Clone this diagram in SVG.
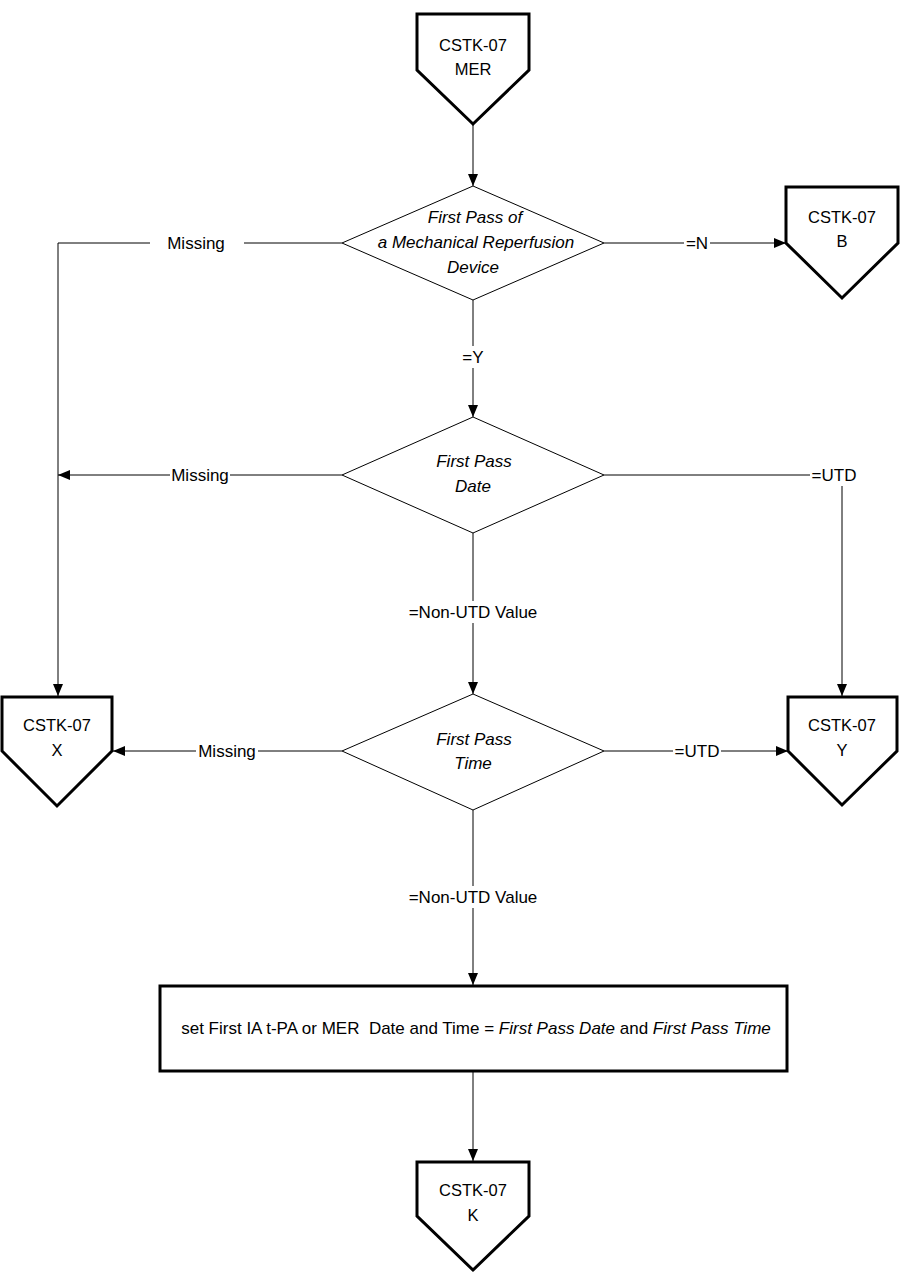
<svg xmlns="http://www.w3.org/2000/svg" width="900" height="1286" viewBox="0 0 900 1286">
<style>
.sh{fill:#fff;stroke:#000;stroke-width:3;stroke-linejoin:miter}
.dm{fill:#fff;stroke:#000;stroke-width:1}
.ln{fill:none;stroke:#000;stroke-width:1}
text{font-family:"Liberation Sans",Arial,sans-serif;font-size:17px;fill:#000;text-anchor:middle}
.nd{font-size:16.5px}
.it{font-style:italic}
.lb{fill:#fff;stroke:none}
</style>
<defs>
<marker id="ah" viewBox="0 0 12 10" refX="12" refY="5" markerWidth="12" markerHeight="10" markerUnits="userSpaceOnUse" orient="auto">
<path d="M0,0 L12,5 L0,10 z" fill="#000"/>
</marker>
</defs>
<rect width="900" height="1286" fill="#fff"/>
<g id="connectors">
<path class="ln" d="M473,124 V186" marker-end="url(#ah)"/>
<path class="ln" d="M604,243 H786" marker-end="url(#ah)"/>
<path class="ln" d="M342,243 H58 V696" marker-end="url(#ah)"/>
<path class="ln" d="M473,300 V417" marker-end="url(#ah)"/>
<path class="ln" d="M342,475 H58" marker-end="url(#ah)"/>
<path class="ln" d="M604,475 H842 V696" marker-end="url(#ah)"/>
<path class="ln" d="M473,533 V694" marker-end="url(#ah)"/>
<path class="ln" d="M342,751 H113" marker-end="url(#ah)"/>
<path class="ln" d="M604,751 H788" marker-end="url(#ah)"/>
<path class="ln" d="M473,810 V985" marker-end="url(#ah)"/>
<path class="ln" d="M473,1071 V1161" marker-end="url(#ah)"/>
<rect class="lb" x="150" y="232" width="94" height="22"/>
<text x="196" y="249">Missing</text>
<rect class="lb" x="684" y="232" width="26" height="22"/>
<text x="697" y="249">=N</text>
<rect class="lb" x="458" y="346" width="30" height="22"/>
<text x="473" y="363">=Y</text>
<rect class="lb" x="170" y="464" width="60" height="22"/>
<text x="200" y="481">Missing</text>
<rect class="lb" x="810" y="464" width="48" height="22"/>
<text x="834" y="481">=UTD</text>
<rect class="lb" x="406" y="601" width="134" height="22"/>
<text x="473" y="618">=Non-UTD Value</text>
<rect class="lb" x="196" y="740" width="62" height="22"/>
<text x="227" y="757">Missing</text>
<rect class="lb" x="673" y="740" width="48" height="22"/>
<text x="697" y="757">=UTD</text>
<rect class="lb" x="406" y="886" width="134" height="22"/>
<text x="473" y="903">=Non-UTD Value</text>
</g>
<g id="n-mer">
<path class="sh" d="M417,14 H529 V70 L473,124 L417,70 Z"/>
<text class="nd" x="473" y="51">CSTK-07</text>
<text class="nd" x="473" y="75">MER</text>
</g>
<g id="d-firstpass">
<path class="dm" d="M473,186 L604,243 L473,300 L342,243 Z"/>
<text class="it" x="475" y="223">First Pass of</text>
<text class="it" x="476" y="248">a Mechanical Reperfusion</text>
<text class="it" x="473" y="273">Device</text>
</g>
<g id="n-b">
<path class="sh" d="M786,187 H898 V243 L842,298 L786,243 Z"/>
<text class="nd" x="842" y="223">CSTK-07</text>
<text class="nd" x="842" y="247">B</text>
</g>
<g id="d-date">
<path class="dm" d="M473,417 L604,475 L473,533 L342,475 Z"/>
<text class="it" x="474" y="467">First Pass</text>
<text class="it" x="473" y="492">Date</text>
</g>
<g id="d-time">
<path class="dm" d="M473,694 L604,751 L473,810 L342,751 Z"/>
<text class="it" x="474" y="745">First Pass</text>
<text class="it" x="473" y="769">Time</text>
</g>
<g id="n-x">
<path class="sh" d="M2,697 H112 V751 L57,806 L2,751 Z"/>
<text class="nd" x="57" y="731">CSTK-07</text>
<text class="nd" x="57" y="756">X</text>
</g>
<g id="n-y">
<path class="sh" d="M788,697 H897 V751 L842,805 L788,751 Z"/>
<text class="nd" x="842" y="731">CSTK-07</text>
<text class="nd" x="842" y="756">Y</text>
</g>
<g id="r-set">
<rect class="sh" x="160" y="986" width="627" height="85"/>
<text x="476" y="1034" xml:space="preserve">set First IA t-PA or MER  Date and Time = <tspan class="it">First Pass Date</tspan> and <tspan class="it">First Pass Time</tspan></text>
</g>
<g id="n-k">
<path class="sh" d="M417,1162 H529 V1216 L473,1270 L417,1216 Z"/>
<text class="nd" x="473" y="1196">CSTK-07</text>
<text class="nd" x="473" y="1221">K</text>
</g>
</svg>
